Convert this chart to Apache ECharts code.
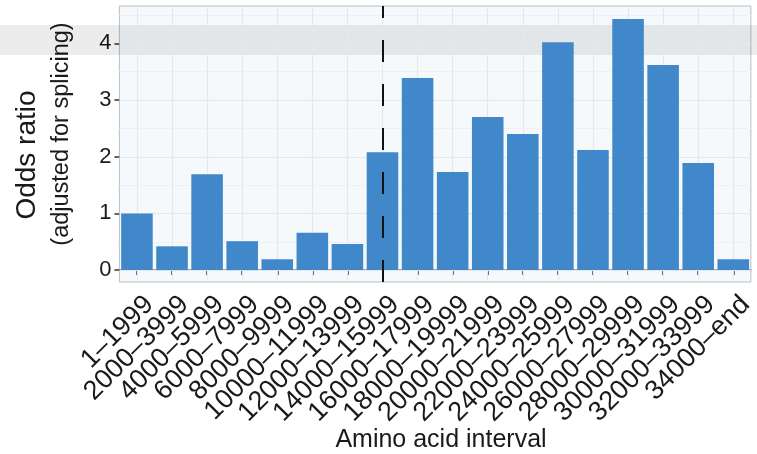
<!DOCTYPE html>
<html>
<head>
<meta charset="utf-8">
<title>Odds ratio by amino acid interval</title>
<script src="https://cdn.jsdelivr.net/npm/echarts@6/dist/echarts.min.js"></script>
<style>
	html, body { margin: 0; padding: 0; background: #fff; }
	#myChart { width: 757px; height: 454px; }
</style>
</head>
<body>
<div id="myChart"></div>
<script>
// interval names on the x axis
var intervals = ['1–1999', '2000–3999', '4000–5999', '6000–7999', '8000–9999',
	'10000–11999', '12000–13999', '14000–15999', '16000–17999', '18000–19999',
	'20000–21999', '22000–23999', '24000–25999', '26000–27999', '28000–29999',
	'30000–31999', '32000–33999', '34000–end'];
// odds ratio, adjusted for splicing
var oddsRatio = [1.00, 0.42, 1.69, 0.51, 0.19, 0.66, 0.46, 2.08, 3.39, 1.73,
	2.70, 2.40, 4.02, 2.12, 4.43, 3.62, 1.89, 0.19];
var yTicks = [0, 1, 2, 3, 4];
var yMinorTicks = [0.5, 1.5, 2.5, 3.5, 4.5];
// dashed reference line
var cutInterval = '14000–15999';

var font = '"Liberation Sans", Arial, Helvetica, sans-serif';
var textColor = '#1a1a1a';

var myChart = echarts.init(document.getElementById('myChart'), null, { renderer: 'canvas' });

// background grid lines, drawn from a helper series under the bars
var gridLines = [];
yTicks.forEach(function(v) {
	gridLines.push({ yAxis: v, lineStyle: { color: '#e3e8ee', width: 1.2, type: 'solid' } });
});
yMinorTicks.forEach(function(v) {
	gridLines.push({ yAxis: v, lineStyle: { color: '#edf1f5', width: 1, type: 'solid' } });
});
intervals.forEach(function(c) {
	gridLines.push({ xAxis: c, lineStyle: { color: '#e3e8ee', width: 1.2, type: 'solid' } });
});

var option = {
	animation: false,
	backgroundColor: '#ffffff',
	grid: {
		left: 119.4,
		right: -5.9,
		top: 6,
		bottom: 172,
		show: true,
		backgroundColor: '#f6f9fc',
		borderColor: '#bdbdbd',
		borderWidth: 1
	},
	xAxis: {
		type: 'category',
		data: intervals,
		axisLine: { show: true, lineStyle: { color: '#8c9296', width: 1.6 } },
		axisTick: { show: true, alignWithLabel: true, length: 5, lineStyle: { color: '#333', width: 1.5 } },
		axisLabel: {
			interval: 0,
			rotate: 45,
			margin: 6,
			fontSize: 27,
			lineHeight: 27,
			verticalAlign: 'top',
			padding: [4, 0, 0, 0],
			fontFamily: font,
			color: textColor
		},
		splitLine: { show: false }
	},
	yAxis: {
		type: 'value',
		min: -0.21,
		max: 4.66,
		axisLine: { show: false },
		axisTick: { show: true, customValues: yTicks, length: 5, lineStyle: { color: '#333', width: 1.5 } },
		axisLabel: {
			customValues: yTicks,
			margin: 8,
			fontSize: 22,
			fontFamily: font,
			color: textColor
		},
		splitLine: { show: false }
	},
	graphic: [
		{
			// grey band across the top of the picture
			type: 'rect',
			z: 1,
			silent: true,
			shape: { x: 0, y: 25, width: 757, height: 30 },
			style: { fill: 'rgba(0,0,0,0.075)' }
		},
		{
			type: 'text',
			x: 27, y: 155,
			rotation: Math.PI / 2,
			style: { text: 'Odds ratio', font: '28px ' + font, fill: textColor, textAlign: 'center', textVerticalAlign: 'middle' }
		},
		{
			type: 'text',
			x: 62, y: 134,
			rotation: Math.PI / 2,
			style: { text: '(adjusted for splicing)', font: '23.5px ' + font, fill: textColor, textAlign: 'center', textVerticalAlign: 'middle' }
		},
		{
			type: 'text',
			x: 441, y: 440,
			style: { text: 'Amino acid interval', font: '25px ' + font, fill: textColor, textAlign: 'center', textVerticalAlign: 'middle' }
		}
	],
	series: [
		{
			name: 'grid',
			type: 'line',
			data: [],
			z: 1,
			silent: true,
			markLine: {
				silent: true,
				z: 1,
				symbol: ['none', 'none'],
				label: { show: false },
				data: gridLines
			}
		},
		{
			name: 'Odds ratio',
			type: 'bar',
			data: oddsRatio,
			barCategoryGap: '10%',
			z: 2,
			itemStyle: { color: '#4088c9' },
			markLine: {
				silent: true,
				z: 5,
				symbol: ['none', 'none'],
				label: { show: false },
				lineStyle: { color: '#111', width: 2, type: [22, 22] },
				data: [{ xAxis: cutInterval }]
			}
		}
	]
};

myChart.setOption(option);
</script>
</body>
</html>
